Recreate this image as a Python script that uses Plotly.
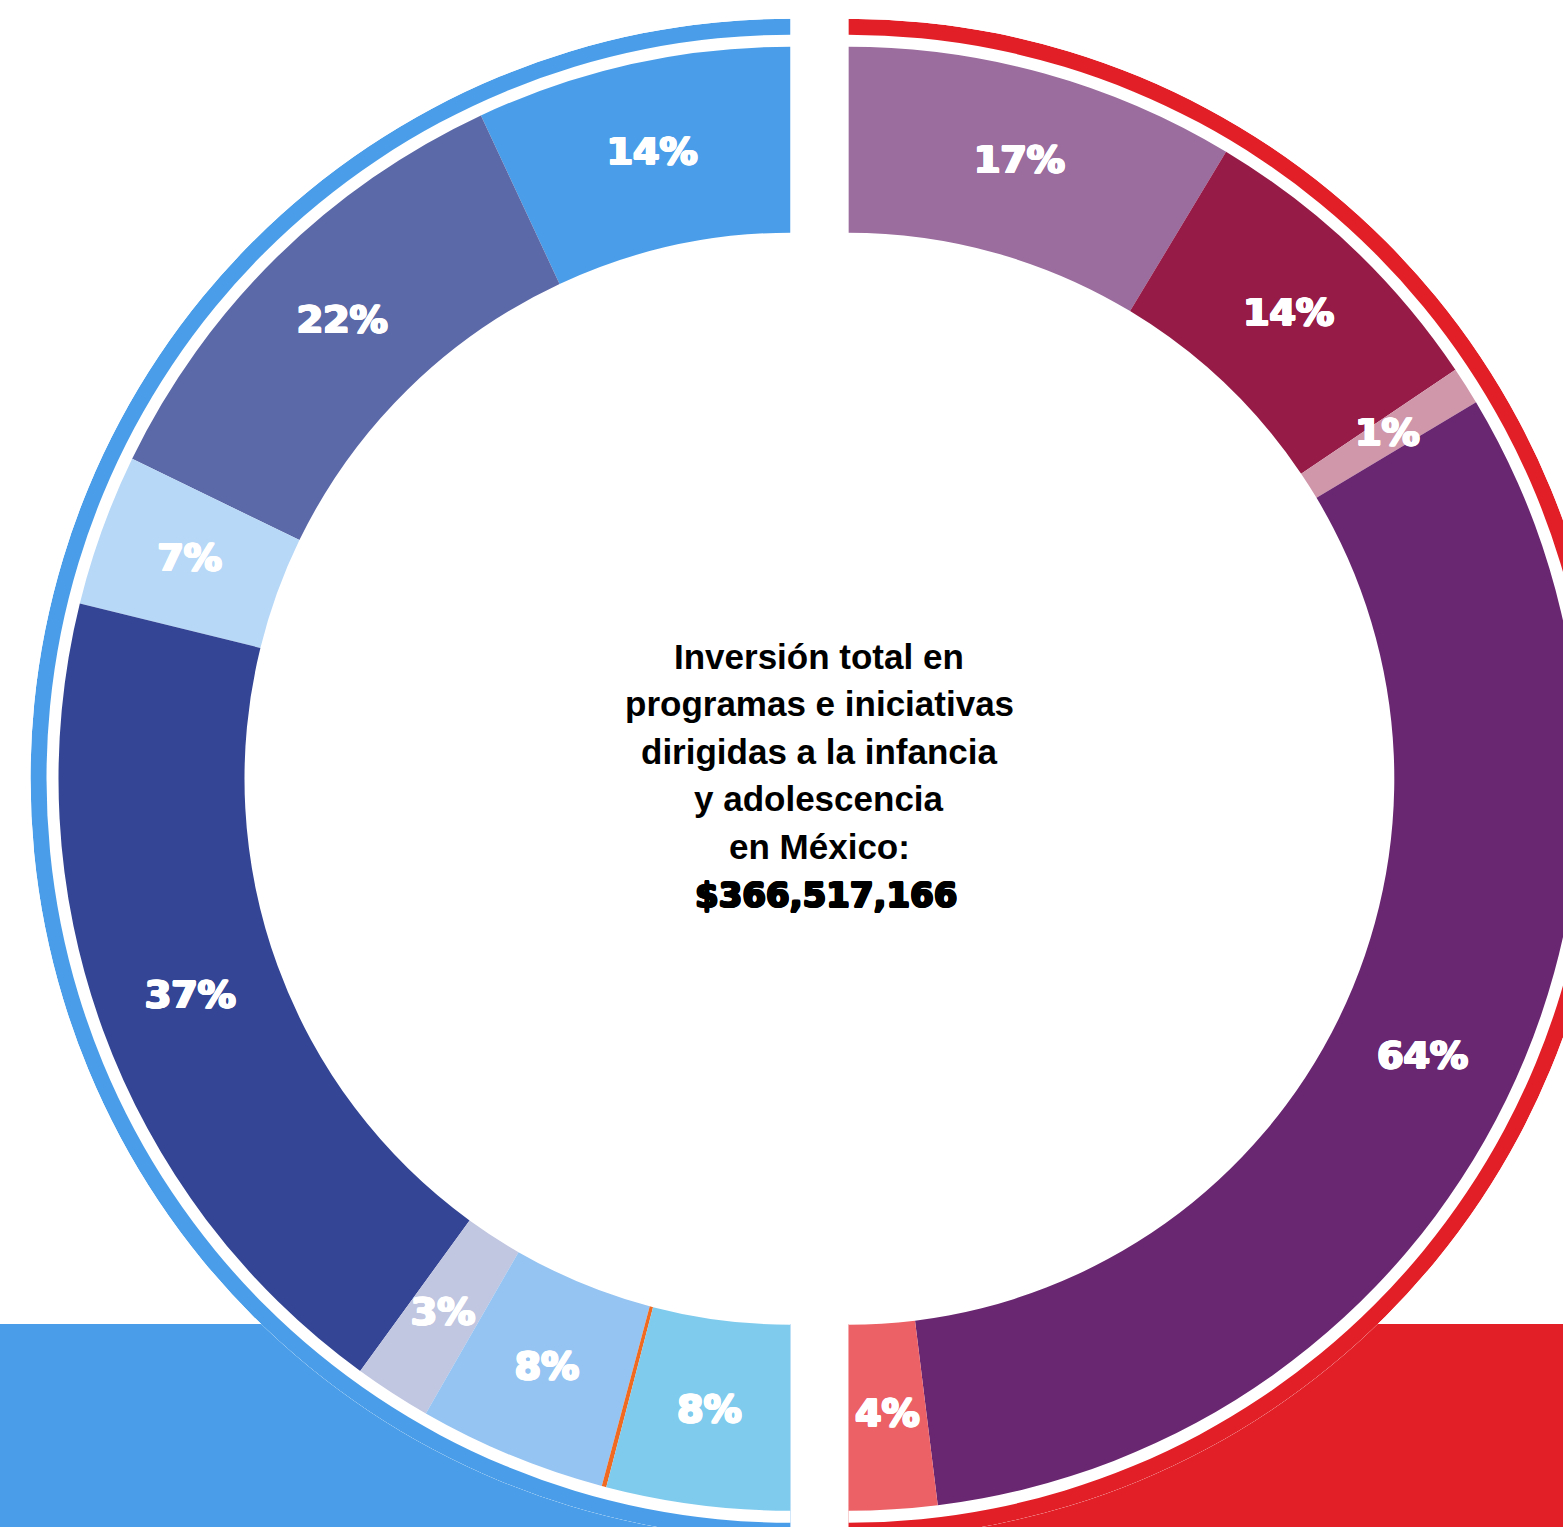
import plotly.graph_objects as go
import numpy as np

# ---------------- data ----------------
left_labels = ["14%", "22%", "7%", "37%", "3%", "8%", "", "8%"]
left_values = [13.9, 21.7, 6.7, 37.7, 3.4, 8.3, 0.2, 8.1]
left_colors = ["#4A9EE9", "#5C69A8", "#B7D8F7", "#334594", "#C1C6E1",
               "#95C4F2", "#F06A22", "#7FCBEE"]

right_labels = ["17%", "14%", "1%", "64%", "4%"]
right_values = [17.26, 13.87, 1.67, 63.3, 3.9]
right_colors = ["#9B6C9E", "#961C47", "#D097AB", "#6A2771", "#EC6165"]

band_left_color = "#4A9EE9"
band_right_color = "#E21F26"

center_lines = ["Inversión total en", "programas e iniciativas",
                "dirigidas a la infancia", "y adolescencia", "en México:"]
center_amount = "$366,517,166"

# ---------------- geometry (pixels) ----------------
W, H = 1620, 1550
CY = 778.75
CXL, CXR = 790.5, 848.3
R_OUT = 760
R_HOLE, R_RING, R_BAND0 = 546, 732, 744
R_LABEL = (R_HOLE + R_RING) / 2
RECT_TOP = 1324


def heavy(color, d=1.1):
    offs = [(d, 0), (-d, 0), (0, d * 0.5), (0, -d * 0.5), (d * 0.7, d * 0.5),
            (-d * 0.7, d * 0.5), (d * 0.7, -d * 0.5), (-d * 0.7, -d * 0.5)]
    return ", ".join(f"{x:.2f}px {y:.2f}px 0px {color}" for x, y in offs)


def half(values):
    v = np.array(values, dtype=float)
    widths = v / v.sum() * 180.0
    centers = np.cumsum(widths) - widths / 2
    return widths, centers


fig = go.Figure()

for side, vals, labs, cols, band_col in [
    ("polar", left_values, left_labels, left_colors, band_left_color),
    ("polar2", right_values, right_labels, right_colors, band_right_color),
]:
    widths, centers = half(vals)
    n = len(vals)
    fig.add_trace(go.Barpolar(
        r=[R_RING - R_HOLE] * n, base=[R_HOLE] * n, theta=centers, width=widths,
        marker=dict(color=cols, line=dict(width=0)), subplot=side,
        hoverinfo="skip", showlegend=False))
    fig.add_trace(go.Barpolar(
        r=[R_OUT - R_BAND0], base=[R_BAND0], theta=[90], width=[180],
        marker=dict(color=band_col, line=dict(width=0)), subplot=side,
        hoverinfo="skip", showlegend=False))
    fig.add_trace(go.Scatterpolar(
        r=[R_LABEL] * n, theta=centers, text=labs, mode="text",
        textfont=dict(family="DejaVu Sans", size=38, color="white", weight="bold",
                      shadow=heavy("white", 1.2)),
        subplot=side, hoverinfo="skip", showlegend=False))


def polar_layout(x0, x1, sector, direction):
    return dict(
        domain=dict(x=[x0 / W, x1 / W], y=[1 - (CY + R_OUT) / H, 1 - (CY - R_OUT) / H]),
        sector=sector, bgcolor="white", hole=0,
        radialaxis=dict(range=[0, R_OUT], visible=False),
        angularaxis=dict(rotation=90, direction=direction, visible=False),
    )


annotations = []
LINE_H = 47.6
first_mid = 656
for i, t in enumerate(center_lines):
    annotations.append(dict(
        text=t, x=(CXL + CXR) / 2 / W, y=1 - (first_mid + i * LINE_H) / H,
        xref="paper", yref="paper", xanchor="center", yanchor="middle",
        showarrow=False,
        font=dict(family="Liberation Sans", size=35, color="black", weight="bold")))
annotations.append(dict(
    text=center_amount, x=(CXL + CXR) / 2 / W + 7 / W, y=1 - (first_mid + 5 * LINE_H + 1) / H,
    xref="paper", yref="paper", xanchor="center", yanchor="middle",
    showarrow=False,
    font=dict(family="DejaVu Sans", size=34, color="black", weight="bold",
              shadow=heavy("black", 1.1))))

shapes = [
    dict(type="rect", xref="paper", yref="paper", layer="below",
         x0=0, x1=CXL / W, y0=0, y1=1 - RECT_TOP / H,
         fillcolor=band_left_color, line=dict(width=0)),
    dict(type="rect", xref="paper", yref="paper", layer="below",
         x0=CXR / W, x1=1, y0=0, y1=1 - RECT_TOP / H,
         fillcolor=band_right_color, line=dict(width=0)),
]

fig.update_layout(
    width=W, height=H, autosize=False,
    margin=dict(l=0, r=0, t=0, b=0, pad=0),
    paper_bgcolor="white", plot_bgcolor="white",
    polar=polar_layout(CXL - R_OUT, CXL, [90, 270], "counterclockwise"),
    polar2=polar_layout(CXR, CXR + R_OUT, [-90, 90], "clockwise"),
    annotations=annotations, shapes=shapes, showlegend=False,
)

fig.write_html(
    "out.html",
    config={"displayModeBar": False},
    post_script=("document.body.style.margin='0px';"
                 "document.body.style.overflow='hidden';"
                 "document.documentElement.style.overflow='hidden';"),
)
